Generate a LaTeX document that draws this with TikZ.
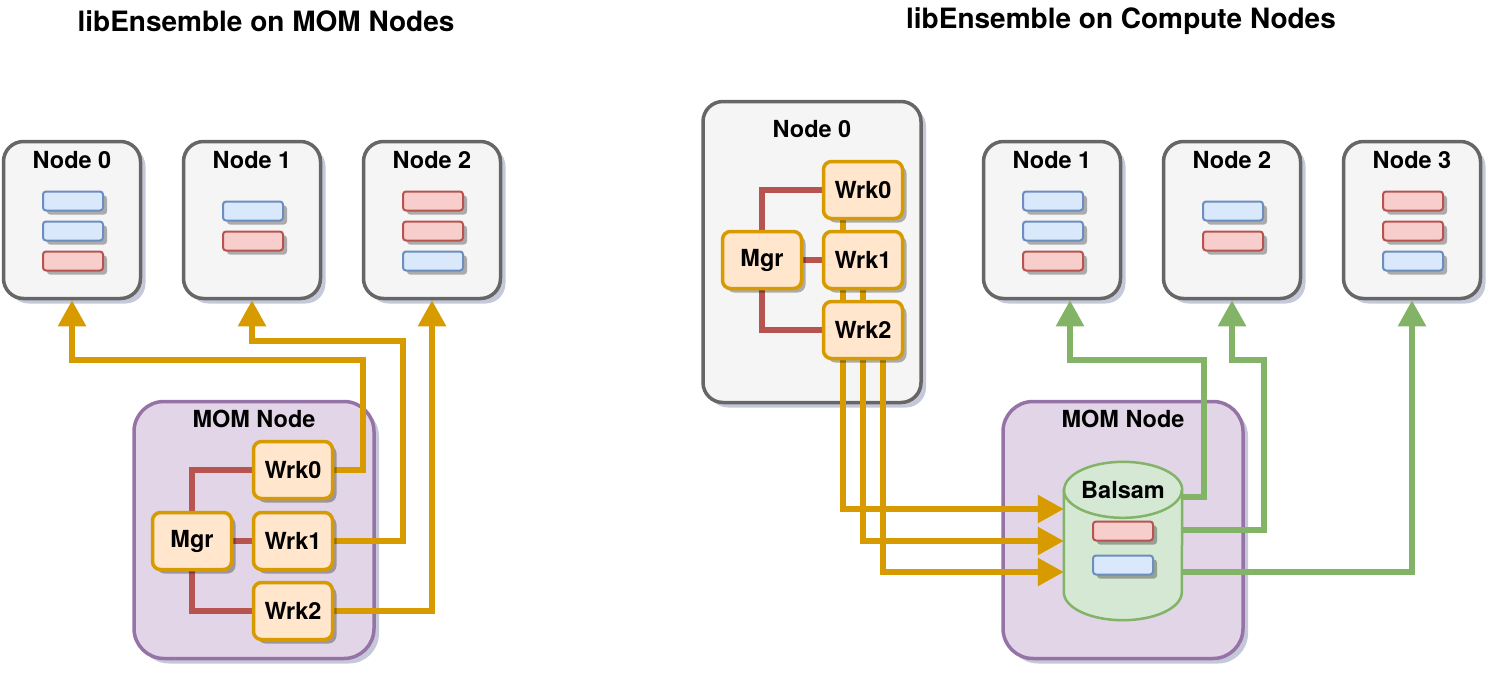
\documentclass[tikz,border=0pt]{standalone}
\usepackage{fontspec}
\setmainfont{TeX Gyre Heros}
\usetikzlibrary{positioning,shadows,arrows.meta}

\definecolor{boxgray}{HTML}{666666}
\definecolor{boxfill}{HTML}{F5F5F5}
\definecolor{wrkline}{HTML}{D79B00}
\definecolor{wrkfill}{HTML}{FFE6CC}
\definecolor{momline}{HTML}{9673A6}
\definecolor{momfill}{HTML}{E1D5E7}
\definecolor{balline}{HTML}{82B366}
\definecolor{balfill}{HTML}{D5E8D4}
\definecolor{redline}{HTML}{B85450}
\definecolor{redfill}{HTML}{F8CECC}
\definecolor{blueline}{HTML}{6C8EBF}
\definecolor{bluefill}{HTML}{DAE8FC}
\definecolor{shade}{HTML}{7F86A8}

\pgfdeclarelayer{back}
\pgfdeclarelayer{wires}
\pgfsetlayers{back,wires,main}

\tikzset{
  lbl/.style={font=\bfseries\fontsize{23.5}{28}\selectfont},
  ttl/.style={font=\bfseries\fontsize{28}{32}\selectfont},
  soft/.style={drop shadow={shadow xshift=5pt,shadow yshift=-5pt,fill=shade,opacity=0.45}},
  hard/.style={drop shadow={shadow xshift=4pt,shadow yshift=-4pt,fill=black,opacity=0.3}},
  cnode/.style={draw=boxgray,fill=boxfill,line width=3.5pt,rounded corners=20pt,
    minimum width=137pt,minimum height=157pt,soft},
  momnode/.style={draw=momline,fill=momfill,line width=3.5pt,rounded corners=30pt,
    minimum width=240pt,minimum height=257pt,soft},
  wrk/.style={draw=wrkline,fill=wrkfill,line width=3.5pt,rounded corners=8pt,
    minimum width=79pt,minimum height=57pt,inner sep=0pt,lbl,hard},
  barb/.style={draw=blueline,fill=bluefill,line width=2pt,rounded corners=3pt,
    minimum width=60pt,minimum height=19pt,inner sep=0pt,hard},
  barr/.style={barb,draw=redline,fill=redfill},
  owire/.style={draw=wrkline,line width=5.5pt,-{Triangle[width=27pt,length=26pt]}},
  gwire/.style={owire,draw=balline},
  rwire/.style={draw=redline,line width=5.5pt},
}

\begin{document}
\begin{tikzpicture}[x=1pt,y=-1pt]
  \useasboundingbox (0,0) rectangle (1512,694);

  % titles
  \node[ttl] (tleft) at (266,21) {libEnsemble on MOM Nodes};
  \node[ttl] (tright) at (1121,21) {libEnsemble on Compute Nodes};

  % containers
  \begin{pgfonlayer}{back}
    \node[cnode] (ln0) at (72,220) {};
    \node[cnode] (ln1) at (252,220) {};
    \node[cnode] (ln2) at (432,220) {};
    \node[momnode] (lmom) at (254,530) {};
    \node[cnode,minimum width=218pt,minimum height=301pt] (rn0) at (812,252) {};
    \node[cnode] (rn1) at (1052,220) {};
    \node[cnode] (rn2) at (1232,220) {};
    \node[cnode] (rn3) at (1412,220) {};
    \node[momnode] (rmom) at (1123,530) {};
  \end{pgfonlayer}

  \node[lbl] (tln0) at ([yshift=-20pt]ln0.north) {Node 0};
  \node[lbl] (tln1) at ([yshift=-20pt]ln1.north) {Node 1};
  \node[lbl] (tln2) at ([yshift=-20pt]ln2.north) {Node 2};
  \node[lbl] (tlmom) at ([yshift=-19pt]lmom.north) {MOM Node};
  \node[lbl] (trn0) at ([yshift=-29pt]rn0.north) {Node 0};
  \node[lbl] (trn1) at ([yshift=-20pt]rn1.north) {Node 1};
  \node[lbl] (trn2) at ([yshift=-20pt]rn2.north) {Node 2};
  \node[lbl] (trn3) at ([yshift=-20pt]rn3.north) {Node 3};
  \node[lbl] (trmom) at ([yshift=-19pt]rmom.north) {MOM Node};

  % task bars
  \foreach \bx/\by/\bc [count=\i] in {73/201/b,73/231/b,73/261/r,
      253/211/b,253/241/r,433/201/r,433/231/r,433/261/b,
      1053/201/b,1053/231/b,1053/261/r,1233/211/b,1233/241/r,
      1413/201/r,1413/231/r,1413/261/b}
    \node[bar\bc] (bar\i) at (\bx,\by) {};

  % left workers
  \node[wrk] (lwk0) at (293,470) {Wrk0};
  \node[wrk] (lwk1) at (293,541) {Wrk1};
  \node[wrk] (lwk2) at (293,611) {Wrk2};
  \node[wrk] (lmgr) at (192,541) {Mgr};

  % right workers
  \node[wrk] (rwk0) at (863,190) {Wrk0};
  \node[wrk] (rwk1) at (863,260) {Wrk1};
  \node[wrk] (rwk2) at (863,330) {Wrk2};
  \node[wrk] (rmgr) at (762,260) {Mgr};

  % balsam
  \node[minimum width=118pt,minimum height=158pt,inner sep=0pt] (rbal) at (1123,541) {};
  \fill[black,opacity=0.25,xshift=5pt,yshift=-6pt]
    ([yshift=-28pt]rbal.north west) -- ([yshift=28pt]rbal.south west)
    arc[start angle=180,end angle=360,x radius=59pt,y radius=28pt]
    -- ([yshift=-28pt]rbal.north east)
    arc[start angle=0,end angle=180,x radius=59pt,y radius=28pt] -- cycle;
  \filldraw[draw=balline,fill=balfill,line width=2.5pt]
    ([yshift=-28pt]rbal.north west) -- ([yshift=28pt]rbal.south west)
    arc[start angle=180,end angle=360,x radius=59pt,y radius=28pt]
    -- ([yshift=-28pt]rbal.north east)
    arc[start angle=0,end angle=180,x radius=59pt,y radius=28pt] -- cycle;
  \draw[balline,line width=2.5pt] ([yshift=-28pt]rbal.north west)
    arc[start angle=180,end angle=360,x radius=59pt,y radius=28pt];
  \node[lbl] (tbal) at ([yshift=-28pt]rbal.north) {Balsam};
  \node[barr] (bbar0) at (1123,531) {};
  \node[barb] (bbar1) at (1123,565) {};

  \begin{pgfonlayer}{wires}
    % manager links
    \draw[rwire] (lmgr.north) |- (lwk0.west);
    \draw[rwire] (lmgr.east) -- (lwk1.west);
    \draw[rwire] (lmgr.south) |- (lwk2.west);
    \draw[rwire] (rmgr.north) |- (rwk0.west);
    \draw[rwire] (rmgr.east) -- (rwk1.west);
    \draw[rwire] (rmgr.south) |- (rwk2.west);
    % workers to nodes
    \draw[owire] (lwk0.east) -| (363,360) -| (ln0.south);
    \draw[owire] (lwk1.east) -| (403,341) -| (ln1.south);
    \draw[owire] (lwk2.east) -| (ln2.south);
    % workers to balsam
    \draw[owire] ([xshift=-20pt]rwk0.south) |- ([yshift=32pt]rbal.west);
    \draw[owire] (rwk1.south) |- (rbal.west);
    \draw[owire] ([xshift=20pt]rwk2.south) |- ([yshift=-31pt]rbal.west);
    % balsam to nodes
    \draw[gwire] ([yshift=44pt]rbal.east) -| (1204,360) -| ([xshift=18pt]rn1.south);
    \draw[gwire] ([yshift=11pt]rbal.east) -| (1264,360) -| (rn2.south);
    \draw[gwire] ([yshift=-31pt]rbal.east) -| (rn3.south);
  \end{pgfonlayer}
\end{tikzpicture}
\end{document}
